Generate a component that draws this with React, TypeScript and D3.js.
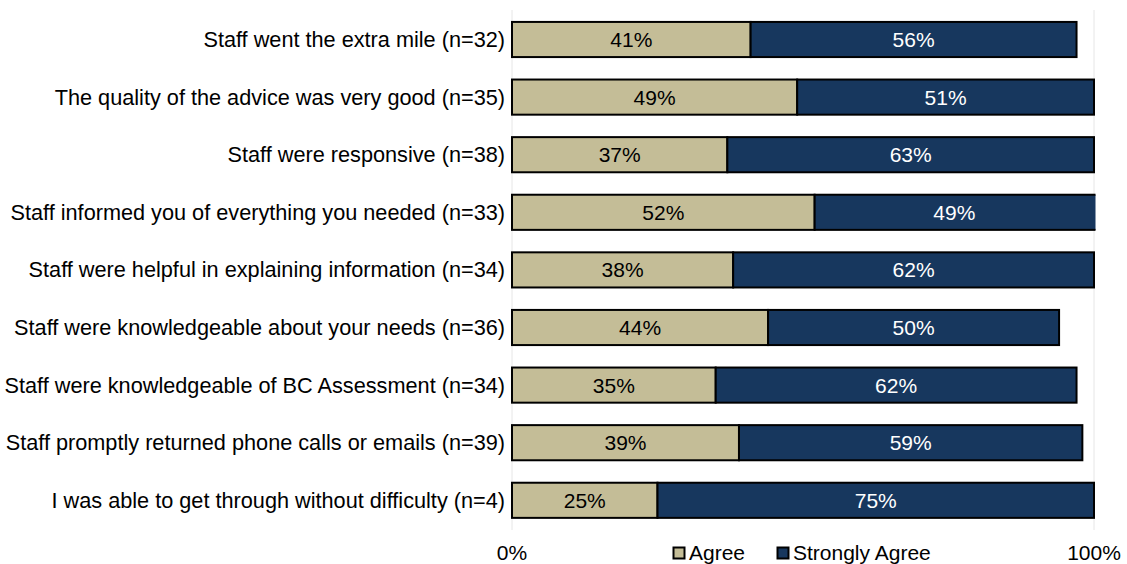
import React from "react";
import * as d3 from "d3";

const categories = [
  "Staff went the extra mile (n=32)",
  "The quality of the advice was very good (n=35)",
  "Staff were responsive (n=38)",
  "Staff informed you of everything you needed (n=33)",
  "Staff were helpful in explaining information (n=34)",
  "Staff were knowledgeable about your needs (n=36)",
  "Staff were knowledgeable of BC Assessment (n=34)",
  "Staff promptly returned phone calls or emails (n=39)",
  "I was able to get through without difficulty (n=4)",
];
const agree = [41, 49, 37, 52, 38, 44, 35, 39, 25];
const stronglyAgree = [56, 51, 63, 49, 62, 50, 62, 59, 75];
const seriesNames = ["Agree", "Strongly Agree"];
const xTicks = [0, 100];

const W = 1127;
const H = 564;
const colors = ["#C4BD97", "#17375E"];
const textColors = ["#000000", "#FFFFFF"];
const FONT = "'Liberation Sans', Arial, sans-serif";

export default function App() {
  const x = d3.scaleLinear().domain([0, 100]).range([512, 1094]);
  const y = d3
    .scaleBand<string>()
    .domain(categories)
    .range([10.7, 529.1])
    .paddingInner(0.39)
    .paddingOuter(0.195);
  const bw = y.bandwidth();
  const series = [agree, stronglyAgree];

  return (
    <svg
      width={W}
      height={H}
      style={{ position: "absolute", left: 0, top: 0, fontFamily: FONT }}
    >
      <defs>
        <clipPath id="plotClip">
          <rect x={500} y={0} width={x(100) - 500 + 1.5} height={540} />
        </clipPath>
      </defs>
      <rect width={W} height={H} fill="#fff" />
      {xTicks.map((t) => (
        <line
          key={"g" + t}
          x1={x(t)}
          x2={x(t)}
          y1={10}
          y2={530}
          stroke="#E6E6E6"
          strokeWidth={1}
        />
      ))}
      {categories.map((c, i) => {
        const yy = y(c)!;
        let acc = 0;
        return (
          <g key={c}>
            <text
              x={505}
              y={yy + bw / 2}
              textAnchor="end"
              dominantBaseline="central"
              fontSize={21.7}
              fill="#000"
            >
              {c}
            </text>
            <g clipPath="url(#plotClip)">
              {series.map((s, k) => {
                const v = s[i];
                const x0 = x(acc);
                const x1 = x(acc + v);
                acc += v;
                return (
                  <rect
                    key={k}
                    x={x0}
                    y={yy}
                    width={x1 - x0}
                    height={bw}
                    fill={colors[k]}
                    stroke="#000"
                    strokeWidth={2}
                  />
                );
              })}
            </g>
            {(() => {
              let a = 0;
              return series.map((s, k) => {
                const v = s[i];
                const x0 = x(a);
                const x1 = x(Math.min(100, a + v));
                a += v;
                return (
                  <text
                    key={"l" + k}
                    x={(x0 + x1) / 2}
                    y={yy + bw / 2}
                    textAnchor="middle"
                    dominantBaseline="central"
                    fontSize={21}
                    fill={textColors[k]}
                  >
                    {v}%
                  </text>
                );
              });
            })()}
          </g>
        );
      })}
      {xTicks.map((t) => (
        <text
          key={"t" + t}
          x={x(t)}
          y={552.5}
          textAnchor="middle"
          dominantBaseline="central"
          fontSize={21}
          fill="#000"
        >
          {t}%
        </text>
      ))}
      <g>
        {seriesNames.map((n, k) => {
          const lx = [673.5, 777.5][k];
          return (
            <g key={n}>
              <rect
                x={lx}
                y={547.5}
                width={11}
                height={11}
                fill={colors[k]}
                stroke="#000"
                strokeWidth={2}
              />
              <text
                x={lx + 15.5}
                y={552.5}
                dominantBaseline="central"
                fontSize={21}
                fill="#000"
              >
                {n}
              </text>
            </g>
          );
        })}
      </g>
    </svg>
  );
}
